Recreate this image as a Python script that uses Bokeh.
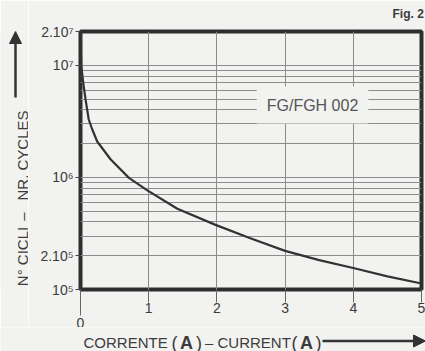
import math
from bokeh.plotting import figure
from bokeh.layouts import column, row
from bokeh.core.properties import value
from bokeh.models import FixedTicker, Label, Arrow, NormalHead, ColumnDataSource, Range1d
from bokeh.embed import file_html
from bokeh.resources import INLINE

# ---- data ----
current = [0.0, 0.01, 0.04, 0.073, 0.12, 0.17, 0.245, 0.44, 0.71, 0.98,
           1.42, 1.98, 2.49, 3.0, 3.5, 4.03, 4.5, 5.0]
cycles = [2.0e7, 1.01e7, 7.0e6, 5.0e6, 3.3e6, 2.7e6, 2.09e6, 1.45e6, 9.9e5, 7.66e5,
          5.25e5, 3.77e5, 2.86e5, 2.21e5, 1.83e5, 1.54e5, 1.31e5, 1.13e5]

x_ticks = [1, 2, 3, 4, 5]
x_tick_labels = ["1", "2", "3", "4", "5"]
x_origin_label = "0"
y_ticks = [100000, 200000, 1000000, 10000000, 20000000]
y_tick_labels = ["10⁵", "2.10⁵", "10⁶", "10⁷", "2.10⁷"]
y_minor = [300000, 400000, 500000, 600000, 700000, 800000, 900000,
           2000000, 3000000, 4000000, 5000000, 6000000, 7000000, 8000000, 9000000]
series_name = "FG/FGH 002"
fig_name = "Fig. 2"
y_title_parts = ["N° CICLI", "–", "NR. CYCLES"]
x_title_parts = ["CORRENTE", "(", "A", ")", "–", "CURRENT", "(", "A", ")"]

BG = "#f2f2f0"
INK = "#333333"
TXT = "#3c3c3c"
GRID = "#8c8c8c"
FONT = "Liberation Sans"

W, H = 425, 351
LEFT_W = 28          # side strip for y title
BOT_H = 24           # bottom strip for x title
L, R, T = 80, 4, 31
FW, FH = W - L - R, 258
TOP_H = H - BOT_H
BOTB = TOP_H - T - FH   # bottom border of the main figure

p = figure(width=W - LEFT_W, height=TOP_H, x_range=(0, 5), y_range=(1e5, 2e7),
           y_axis_type="log", output_backend="svg", toolbar_location=None, title=None,
           min_border_left=L - LEFT_W, min_border_right=R, min_border_top=T,
           min_border_bottom=BOTB,
           background_fill_color=BG, border_fill_color=BG)

p.outline_line_color = "#2e2e2e"
p.outline_line_width = 4

# axes
p.xaxis.ticker = FixedTicker(ticks=x_ticks, minor_ticks=[0])
p.xaxis.major_label_overrides = {t: s for t, s in zip(x_ticks, x_tick_labels)}
p.yaxis.ticker = FixedTicker(ticks=y_ticks, minor_ticks=y_minor)
p.yaxis.major_label_overrides = {t: s for t, s in zip(y_ticks, y_tick_labels)}
for ax in (p.xaxis, p.yaxis):
    ax.axis_line_color = None
    ax.major_tick_in = 0
    ax.minor_tick_in = 0
    ax.major_label_text_font = FONT
    ax.major_label_text_color = TXT
p.yaxis.minor_tick_line_color = None
p.xaxis.major_tick_out = 13
p.xaxis.minor_tick_out = 26
p.xaxis.major_tick_line_color = "#666666"
p.xaxis.minor_tick_line_color = "#666666"
p.xaxis.major_label_standoff = -13
p.xaxis.major_label_text_font_size = "14px"
p.yaxis.major_tick_out = 5
p.yaxis.major_tick_line_color = "#444444"
p.yaxis.major_label_standoff = 2
p.yaxis.major_label_text_font_size = "14px"

p.xgrid.grid_line_color = GRID
p.ygrid.grid_line_color = GRID
p.ygrid.minor_grid_line_color = GRID

p.line(current, cycles, line_width=2.2, line_color=INK)

# pixel -> data helpers for annotation placement
def dx(px):
    return (px - L) * 5.0 / FW

def dy(py):
    return 10 ** (5 + (T + FH - py) * math.log10(200) / FH)

# series label with box masking the grid (inside frame)
p.add_layout(Label(x=dx(312), y=dy(104.5), text=series_name, text_align="center",
                   text_baseline="middle", text_font=FONT, text_font_size="16px",
                   text_color="#555555", background_fill_color=BG, padding=10))
# texts in the margins of the main figure (side panels are not clipped)
p.add_layout(Label(x=dx(392), y=dy(13), text=fig_name, text_font=FONT,
                   text_font_size="12px", text_font_style="bold", text_color=TXT,
                   text_baseline="alphabetic"), "above")
p.add_layout(Label(x=0, y=dy(322), text=x_origin_label, text_align="center",
                   text_baseline="middle", text_font=FONT, text_font_size="14px",
                   text_color=TXT), "above")

# ---- left strip: its frame lines up with the main frame (rows align frames) ----
# y coordinates below are "pixels from the strip bottom"
lf = figure(width=LEFT_W, height=TOP_H, x_range=Range1d(0, LEFT_W),
            y_range=Range1d(TOP_H - (T + FH), TOP_H - T),
            output_backend="svg", toolbar_location=None, title=None,
            x_axis_location=None, y_axis_location=None,
            min_border_left=0, min_border_right=0, min_border_top=T, min_border_bottom=BOTB,
            background_fill_color=BG, border_fill_color=BG)
lf.outline_line_color = None
lf.grid.visible = False
ysrc = ColumnDataSource(dict(x=[22, 22, 22], y=[TOP_H - 256, TOP_H - 216, TOP_H - 155],
                             text=y_title_parts))
lf.text(x="x", y="y", text="text", source=ysrc, angle=math.pi / 2, text_align="center",
        text_baseline="alphabetic", text_font=value(FONT), text_font_size=value("15px"),
        text_color=TXT)
lf.add_layout(Arrow(x_start=15, y_start=TOP_H - 97, x_end=15, y_end=TOP_H - 31,
                    end=NormalHead(size=12, fill_color=INK, line_color=INK),
                    line_color=INK, line_width=2.5))

# ---- bottom strip: x title + arrow (pixel coordinates, y up) ----
bf = figure(width=W, height=BOT_H, x_range=Range1d(0, W), y_range=Range1d(0, BOT_H),
            output_backend="svg", toolbar_location=None, title=None,
            x_axis_location=None, y_axis_location=None,
            min_border_left=0, min_border_right=0, min_border_top=0, min_border_bottom=0,
            background_fill_color=BG, border_fill_color=BG)
bf.outline_line_color = None
bf.grid.visible = False
xsrc = ColumnDataSource(dict(
    x=[83, 171, 179.5, 195.5, 204.5, 217, 291, 299.5, 315],
    y=[H - 342] * 9,
    text=x_title_parts,
    size=["15px", "18px", "18px", "18px", "15px", "15px", "18px", "18px", "18px"],
    style=["normal", "normal", "bold", "normal", "normal", "normal", "normal", "bold", "normal"],
))
bf.text(x="x", y="y", text="text", source=xsrc, text_font_size="size",
        text_font_style="style", text_align="left", text_baseline="alphabetic",
        text_font=value(FONT), text_color=TXT)
bf.add_layout(Arrow(x_start=322, y_start=H - 340.5, x_end=425, y_end=H - 340.5,
                    end=NormalHead(size=12, fill_color=INK, line_color=INK),
                    line_color=INK, line_width=2.5))

layout = column(row(lf, p, spacing=0), bf, spacing=0)
open("out.html", "w").write(file_html(layout, INLINE))
